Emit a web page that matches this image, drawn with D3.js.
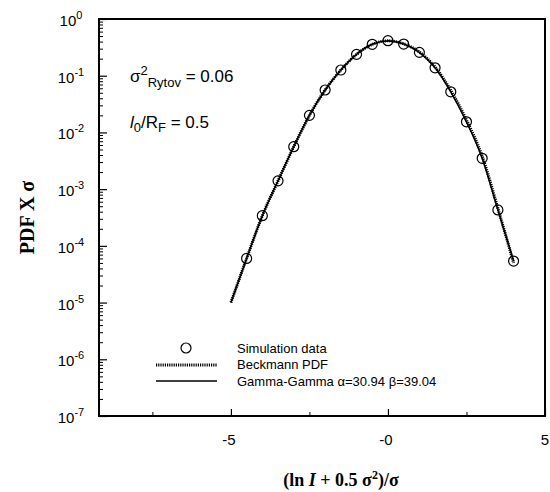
<!DOCTYPE html>
<html>
<head>
<meta charset="utf-8">
<script src="https://cdn.jsdelivr.net/npm/d3@7"></script>
<style>
  body { margin: 0; background: #fff; }
  svg { display: block; }
  .tick-label { font-family: "Liberation Sans", Arial, sans-serif; font-size: 15px; fill: #000; }
  .note { font-family: "Liberation Sans", Arial, sans-serif; font-size: 17px; fill: #000; }
  .legend { font-family: "Liberation Sans", Arial, sans-serif; font-size: 13px; fill: #000; }
  .title { font-family: "Liberation Serif", "Times New Roman", serif; font-weight: bold; fill: #000; }
</style>
</head>
<body>
<div id="chart"></div>
<script>
// ---- data ---------------------------------------------------
const simX = [-4.5, -4, -3.5, -3, -2.5, -2, -1.5, -1, -0.5, 0, 0.5, 1, 1.5, 2, 2.5, 3, 3.5, 4];
const simY = [6e-5, 3.4e-4, 1.4e-3, 5.6e-3, 2.0e-2, 5.6e-2, 0.126, 0.238, 0.358, 0.414, 0.362, 0.258, 0.138, 0.052, 0.0154, 3.5e-3, 4.3e-4, 5.4e-5];

const curveX = [-5, -4.5, -4, -3.5, -3, -2.5, -2, -1.5, -1, -0.5, 0, 0.5, 1, 1.5, 2, 2.5, 3, 3.5, 4];
const gammaY = [1.0e-5, 6e-5, 3.4e-4, 1.4e-3, 5.6e-3, 2.0e-2, 5.6e-2, 0.126, 0.238, 0.358, 0.412, 0.362, 0.258, 0.138, 0.052, 0.0154, 3.5e-3, 4.3e-4, 5.4e-5];
const beckY = [1.0e-5, 6e-5, 3.4e-4, 1.4e-3, 5.6e-3, 2.0e-2, 5.6e-2, 0.126, 0.238, 0.358, 0.412, 0.365, 0.262, 0.142, 0.055, 0.0165, 3.8e-3, 4.6e-4, 5.0e-5];

const xTicks = [-5, 0, 5];
const xTickLabels = ["-5", "-0", "5"];
const xMinorTicks = [-7.5, -2.5, 2.5];
const yExps = [0, -1, -2, -3, -4, -5, -6, -7];

// ---- layout -------------------------------------------------
const W = 550, H = 492;
const PLOT = { LEFT: 99, RIGHT: 545, TOP: 19, BOTTOM: 416 };

const svg = d3.select("#chart").append("svg")
    .attr("width", W).attr("height", H);

const x = d3.scaleLinear().domain([-9.2, 5]).range([PLOT.LEFT, PLOT.RIGHT]);
const y = d3.scaleLog().domain([1e-7, 1]).range([PLOT.BOTTOM, PLOT.TOP]);

// ---- axes ---------------------------------------------------
const yMinor = [];
yExps.slice(1).forEach(e => {
    for (let m = 2; m <= 9; m++) yMinor.push(m * Math.pow(10, e));
});

svg.append("g")
    .attr("transform", `translate(${PLOT.LEFT},0)`)
    .call(d3.axisLeft(y).tickValues(yMinor).tickSize(-4).tickFormat(""))
    .call(g => g.select(".domain").remove())
    .selectAll("line").attr("stroke", "#000").attr("stroke-width", 1);

svg.append("g")
    .attr("transform", `translate(${PLOT.LEFT},0)`)
    .call(d3.axisLeft(y).tickValues(yExps.map(e => Math.pow(10, e))).tickSize(-8).tickFormat(""))
    .call(g => g.select(".domain").remove())
    .selectAll("line").attr("stroke", "#000").attr("stroke-width", 1.2);

svg.append("g")
    .attr("transform", `translate(0,${PLOT.BOTTOM})`)
    .call(d3.axisBottom(x).tickValues(xTicks).tickSize(-7).tickFormat(""))
    .call(g => g.select(".domain").remove())
    .selectAll("line").attr("stroke", "#000").attr("stroke-width", 1.2);

svg.append("g")
    .attr("transform", `translate(0,${PLOT.BOTTOM})`)
    .call(d3.axisBottom(x).tickValues(xMinorTicks).tickSize(-4).tickFormat(""))
    .call(g => g.select(".domain").remove())
    .selectAll("line").attr("stroke", "#000").attr("stroke-width", 1);

// frame
svg.append("rect")
    .attr("x", PLOT.LEFT).attr("y", PLOT.TOP)
    .attr("width", PLOT.RIGHT - PLOT.LEFT).attr("height", PLOT.BOTTOM - PLOT.TOP)
    .attr("fill", "none").attr("stroke", "#000").attr("stroke-width", 2);

// y tick labels 10^n
yExps.forEach(e => {
    const t = svg.append("text").attr("class", "tick-label")
        .attr("x", 71).attr("y", y(Math.pow(10, e)) + 7)
        .attr("text-anchor", "middle");
    t.append("tspan").text("10");
    t.append("tspan").attr("dy", -7).attr("font-size", 11).text(String(e));
});

// x tick labels
xTicks.forEach((v, i) => {
    svg.append("text").attr("class", "tick-label")
        .attr("x", x(v) - (v === 5 ? 0 : 2)).attr("y", 445)
        .attr("text-anchor", "middle")
        .text(xTickLabels[i]);
});

// ---- curves -------------------------------------------------
const line = d3.line().curve(d3.curveMonotoneX);

svg.append("path")
    .attr("d", line(curveX.map((v, i) => [x(v), y(beckY[i])])))
    .attr("fill", "none").attr("stroke", "#000")
    .attr("stroke-width", 3).attr("stroke-dasharray", "1.2,1");

svg.append("path")
    .attr("d", line(curveX.map((v, i) => [x(v), y(gammaY[i])])))
    .attr("fill", "none").attr("stroke", "#000").attr("stroke-width", 1.6);

svg.append("g").selectAll("circle")
    .data(simX.map((v, i) => [v, simY[i]]))
    .join("circle")
    .attr("cx", d => x(d[0])).attr("cy", d => y(d[1]))
    .attr("r", 5).attr("fill", "none").attr("stroke", "#000").attr("stroke-width", 1.2);

// ---- annotations --------------------------------------------
const n1 = svg.append("text").attr("class", "note").attr("x", 130).attr("y", 82);
n1.append("tspan").text("σ");
n1.append("tspan").attr("dy", -7).attr("font-size", 13).text("2");
n1.append("tspan").attr("dy", 12).attr("font-size", 13).text("Rytov");
n1.append("tspan").attr("dy", -5).text(" = 0.06");

const n2 = svg.append("text").attr("class", "note").attr("x", 130).attr("y", 128);
n2.append("tspan").attr("font-style", "italic").text("l");
n2.append("tspan").attr("dy", 4).attr("font-size", 13).text("0");
n2.append("tspan").attr("dy", -4).text("/R");
n2.append("tspan").attr("dy", 4).attr("font-size", 13).text("F");
n2.append("tspan").attr("dy", -4).text(" = 0.5");

// ---- legend -------------------------------------------------
svg.append("circle").attr("cx", 186).attr("cy", 348).attr("r", 5)
    .attr("fill", "none").attr("stroke", "#000").attr("stroke-width", 1.2);
svg.append("text").attr("class", "legend").attr("x", 237).attr("y", 353).text("Simulation data");

svg.append("line").attr("x1", 156).attr("x2", 217).attr("y1", 365).attr("y2", 365)
    .attr("stroke", "#000").attr("stroke-width", 3).attr("stroke-dasharray", "1.2,1");
svg.append("text").attr("class", "legend").attr("x", 237).attr("y", 369).text("Beckmann PDF");

svg.append("line").attr("x1", 156).attr("x2", 217).attr("y1", 381).attr("y2", 381)
    .attr("stroke", "#000").attr("stroke-width", 1.4);
svg.append("text").attr("class", "legend").attr("x", 237).attr("y", 386).text("Gamma-Gamma α=30.94 β=39.04");

// ---- axis titles --------------------------------------------
svg.append("text").attr("class", "title")
    .attr("transform", `translate(34,${(PLOT.TOP + PLOT.BOTTOM) / 2}) rotate(-90)`)
    .attr("text-anchor", "middle").attr("font-size", 20)
    .text("PDF X σ");

const xt = svg.append("text").attr("class", "title")
    .attr("x", 341).attr("y", 486).attr("text-anchor", "middle").attr("font-size", 18);
xt.append("tspan").text("(ln ");
xt.append("tspan").attr("font-style", "italic").text("I");
xt.append("tspan").text(" + 0.5 σ");
xt.append("tspan").attr("dy", -7).attr("font-size", 12).text("2");
xt.append("tspan").attr("dy", 7).text(")/σ");
</script>
</body>
</html>
